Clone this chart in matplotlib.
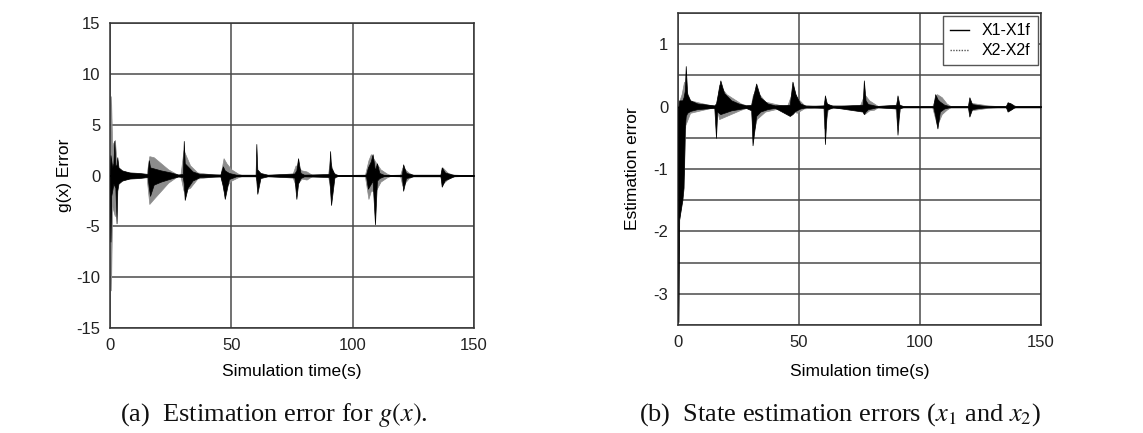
import matplotlib.pyplot as plt
import numpy as np

plt.rcParams['font.family'] = ['Liberation Sans', 'DejaVu Sans']
plt.rcParams['mathtext.fontset'] = 'stix'
plt.rcParams['axes.unicode_minus'] = False

# --- data: envelopes of the oscillating error signals ---
# (a) g(x) error, dark trace
g_t = [0.0, 0.2, 0.5, 0.9, 1.4, 1.8, 2.2, 2.7, 3.0, 3.5, 5, 8, 12, 15.5,
       16, 16.5, 18, 21, 25, 28, 30, 30.4, 30.8, 32, 34, 37, 45.5, 46.5, 47.3, 49, 52,
       60, 60.3, 60.7, 62, 65, 76, 76.8, 77.5, 78.5, 80, 90.3, 90.7, 91.1, 92.5, 94,
       105.5, 106.3, 107.5, 108.2, 109.2, 110, 111, 113, 120.3, 120.8, 122, 125,
       136.2, 136.7, 138, 140, 142, 150]
g_hi = [0, 2.0, 1.5, 0.8, 1.2, 3.4, 1.0, 1.0, 1.8, 0.8, 0.5, 0.3, 0.25, 0.15,
        1.5, 0.8, 0.7, 0.5, 0.3, 0.1, 0.15, 3.4, 1.2, 0.9, 0.4, 0.15, 0.1, 0.9, 0.5, 0.25, 0.08,
        0.08, 3.1, 0.6, 0.25, 0.08, 0.2, 0.5, 1.7, 0.25, 0.08, 0.15, 2.4, 0.8, 0.15, 0.05,
        0.08, 0.8, 1.4, 2.1, 0.5, 1.2, 0.25, 0.05, 0.08, 1.1, 0.25, 0.08,
        0.08, 0.8, 0.3, 0.15, 0.05, 0.05]
g_lo = [0, -6.5, -2.0, -1.5, -0.8, -1.0, -1.2, -4.7, -1.5, -0.8, -0.5, -0.3, -0.25, -0.15,
        -1.2, -2.0, -0.9, -0.6, -0.3, -0.1, -0.15, -0.8, -2.4, -1.2, -0.5, -0.15, -0.1, -1.0, -2.3, -0.35, -0.08,
        -0.08, -0.5, -1.8, -0.25, -0.08, -0.2, -2.3, -0.8, -0.25, -0.08, -0.15, -1.5, -2.9, -0.15, -0.05,
        -0.08, -1.3, -0.8, -0.5, -4.8, -0.5, -0.25, -0.05, -0.08, -1.5, -0.25, -0.08,
        -0.08, -1.1, -0.45, -0.25, -0.05, -0.05]

# (a) g(x) error, light trace
gg_t = [0, 0.4, 0.9, 2.0, 3.0, 15, 16.2, 18, 21, 24, 27, 29, 30.3, 33, 36,
        45.5, 46.8, 48, 50, 53, 55, 75, 76.5, 79, 81, 83, 85, 89.8, 90.6, 92, 94,
        105, 106.5, 107.5, 109.5, 111.5, 114, 116, 119.5, 120.5, 123, 125,
        136, 137, 139, 141, 150]
gg_hi = [0, 7.8, 3.0, 3.5, 0.5, 0, 1.9, 1.8, 1.2, 0.6, 0.2, 0, 2.5, 1.0, 0.3,
         0, 1.7, 1.2, 0.6, 0.15, 0, 0, 1.0, 0.5, 0.4, 0.1, 0, 0, 1.5, 0.3, 0,
         0, 1.5, 2.1, 1.3, 0.6, 0.2, 0, 0, 0.8, 0.3, 0,
         0, 0.8, 0.3, 0.1, 0]
gg_lo = [0, -11.3, -3.0, -4.0, -0.5, 0, -2.8, -2.3, -1.5, -0.7, -0.2, 0, -1.5, -1.2, -0.3,
         0, -1.5, -1.0, -0.5, -0.15, 0, 0, -1.0, -0.3, -0.4, -0.1, 0, 0, -1.0, -0.3, 0,
         0, -2.3, -1.5, -1.5, -0.6, -0.2, 0, 0, -1.0, -0.3, 0,
         0, -0.8, -0.4, -0.1, 0]

# (b) X1 - X1f
x1_t = [0, 0.2, 0.5, 1.8, 2.3, 2.8, 3.2, 3.8, 5, 8, 15, 15.7, 16.2, 17.5, 19, 22, 25, 28,
        30.3, 30.8, 32.3, 34, 37, 40, 46.2, 47.3, 48.5, 50.5, 53, 60.3, 60.7, 61.5, 64,
        76.3, 76.8, 77.5, 78.5, 80, 82, 90.2, 90.7, 91.5, 93, 105.5, 106.3, 107.2, 108.2,
        110, 112, 119.8, 120.4, 121.5, 125, 128, 135.5, 136.2, 137.5, 139, 150]
x1_hi = [0, 0, 0.1, 0.1, 0.15, 0.25, 0.65, 0.2, 0.1, 0.05, 0.02, 0.05, 0.15, 0.42, 0.22, 0.1, 0.05, 0.02,
         0.03, 0.12, 0.37, 0.15, 0.05, 0.02, 0.03, 0.4, 0.2, 0.05, 0.01, 0.02, 0.18, 0.05, 0.01,
         0.03, 0.42, 0.1, 0.04, 0.03, 0.01, 0.03, 0.18, 0.03, 0.01, 0.01, 0.2, 0.12, 0.08,
         0.03, 0.01, 0.01, 0.15, 0.04, 0.02, 0.01, 0.01, 0.07, 0.05, 0.01, 0.01]
x1_lo = [0, -3.45, -1.8, -1.5, -1.3, -0.35, -0.15, -0.1, -0.07, -0.04, -0.02, -0.5, -0.08, -0.12, -0.1, -0.06, -0.04, -0.02,
         -0.06, -0.62, -0.15, -0.08, -0.04, -0.02, -0.15, -0.12, -0.07, -0.03, -0.01, -0.02, -0.6, -0.05, -0.01,
         -0.08, -0.12, -0.08, -0.04, -0.03, -0.01, -0.03, -0.45, -0.03, -0.01, -0.01, -0.15, -0.35, -0.08,
         -0.03, -0.01, -0.01, -0.16, -0.04, -0.02, -0.01, -0.01, -0.08, -0.05, -0.01, -0.01]

# (b) X2 - X2f
x2_t = [0, 0.6, 1.5, 2.5, 3, 5, 15.8, 17, 20, 26, 30, 31, 32.5, 36, 45, 47.8, 49, 52,
        60, 60.5, 62, 75, 77, 79, 81, 83, 89.8, 90.5, 92, 105, 107, 109, 111, 113,
        120, 121, 128, 135, 137, 140, 150]
x2_hi = [0, 0.1, 0.2, 0.4, 0.3, 0.1, 0, 0.35, 0.2, 0.05, 0, 0.2, 0.25, 0.08, 0, 0.3, 0.15, 0.03,
         0, 0.1, 0.03, 0, 0.2, 0.1, 0.05, 0, 0, 0.1, 0, 0, 0.2, 0.15, 0.05, 0,
         0, 0.06, 0.02, 0, 0.06, 0, 0]
x2_lo = [0, -1.8, -1.5, -1.0, -0.3, -0.1, 0, -0.2, -0.15, -0.05, 0, -0.45, -0.2, -0.08, 0, -0.05, -0.1, -0.03,
         0, -0.35, -0.03, 0, -0.12, -0.06, -0.05, 0, 0, -0.3, 0, 0, -0.3, -0.12, -0.05, 0,
         0, -0.06, -0.02, 0, -0.05, 0, 0]

W, H = 1143, 433
fig = plt.figure(figsize=(W / 100, H / 100), dpi=100)

GRID = '#4a4a4a'


def style(ax):
    ax.grid(True, color=GRID, linewidth=1.1)
    ax.set_axisbelow(True)
    for s in ax.spines.values():
        s.set_color('#333333')
        s.set_linewidth(1.1)
    ax.tick_params(length=0, labelsize=12, pad=7, colors='#222222')


# --- (a) ---
ax1 = fig.add_axes([110 / W, 1 - 328 / H, 364 / W, 305 / H])
ax1.fill_between(gg_t, gg_lo, gg_hi, color='#8c8c8c', linewidth=0.5, zorder=2)
ax1.fill_between(g_t, g_lo, g_hi, color='black', linewidth=0.5, zorder=3)
ax1.plot([0, 150], [0, 0], color='black', linewidth=1.2, zorder=3)
ax1.set_xlim(0, 150)
ax1.set_ylim(-15, 15)
ax1.set_xticks([0, 50, 100, 150])
ax1.set_yticks([-15, -10, -5, 0, 5, 10, 15])
style(ax1)
ax1.set_xlabel('Simulation time(s)', fontsize=12.5, labelpad=8)
ax1.set_ylabel('g(x) Error', fontsize=12.5, labelpad=3)

# --- (b) ---
ax2 = fig.add_axes([678 / W, 1 - 325 / H, 363 / W, 312 / H])
ax2.fill_between(x2_t, x2_lo, x2_hi, color='#8c8c8c', linewidth=0.5, zorder=2)
ax2.fill_between(x1_t, x1_lo, x1_hi, color='black', linewidth=0.5, zorder=3)
ax2.plot([0, 150], [0, 0], color='black', linewidth=1.0, zorder=3)
ax2.set_xlim(0, 150)
ax2.set_ylim(-3.5, 1.5)
ax2.set_xticks([0, 50, 100, 150])
yt = np.arange(-3.5, 1.51, 0.5)
ax2.set_yticks(yt)
ax2.set_yticklabels(['' if v % 1 else f'{v:g}' for v in yt])
style(ax2)
ax2.set_xlabel('Simulation time(s)', fontsize=12.5, labelpad=10)
ax2.set_ylabel('Estimation error', fontsize=12.5, labelpad=10)

h1, = ax2.plot([], [], color='black', linewidth=1.0, label='X1-X1f')
h2, = ax2.plot([], [], color='#555555', linewidth=1.0, linestyle=(0, (1, 1)), label='X2-X2f')
leg = ax2.legend(handles=[h1, h2], loc='upper right', fontsize=11.5, fancybox=False,
                 framealpha=1, edgecolor='#555555', borderaxespad=0.2, handlelength=1.2,
                 handletextpad=0.8, borderpad=0.45, labelspacing=0.3)
leg.get_frame().set_linewidth(1.0)

# captions
cap_font = dict(fontsize=19, family='Liberation Serif', ha='center', va='center', color='#111111')
fig.text(274 / W, 1 - 415 / H, '(a)  Estimation error for $g(x)$.', **cap_font)
fig.text(840 / W, 1 - 415 / H, '(b)  State estimation errors ($x_1$ and $x_2$)', **cap_font)

fig.savefig('out.png', dpi=100)
